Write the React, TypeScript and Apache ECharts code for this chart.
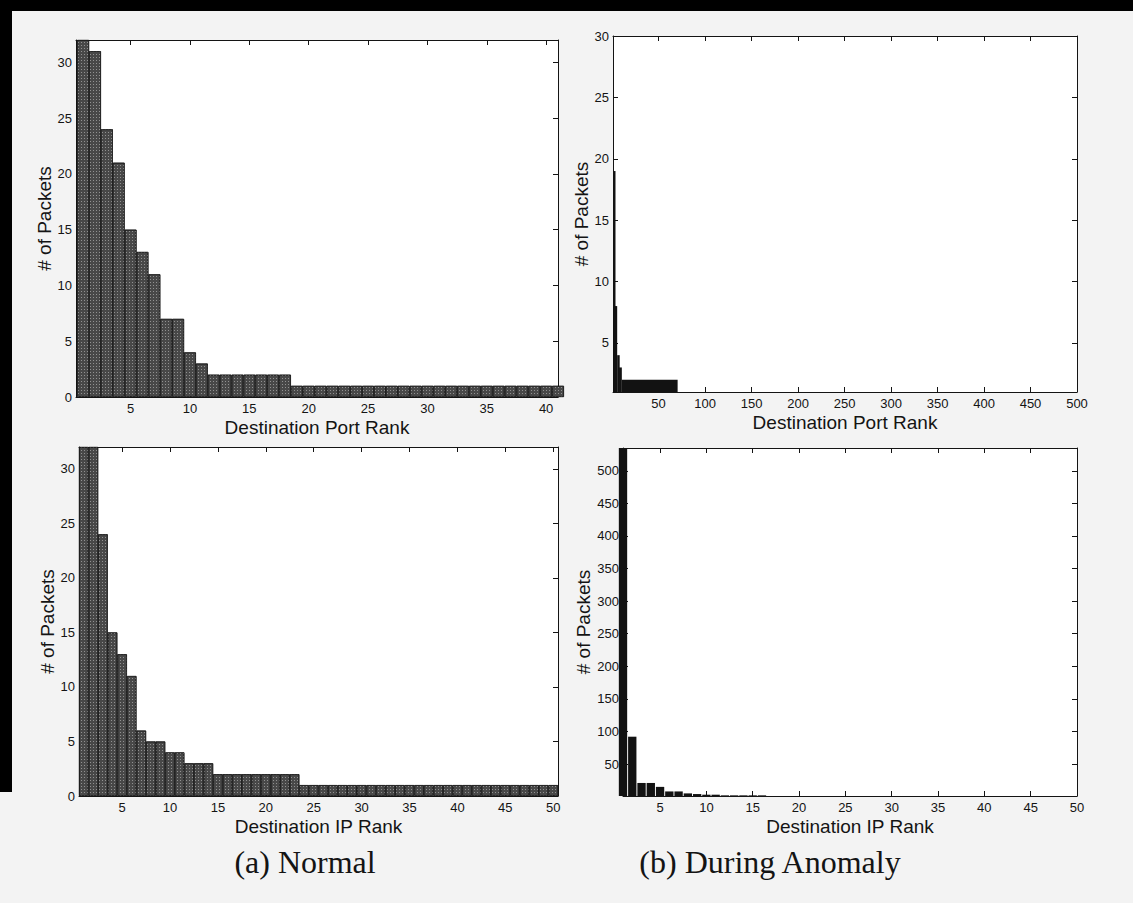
import React, { useEffect, useRef } from 'react';
import * as echarts from 'echarts';

// ---- data ----
const portNormalCounts = [
  32, 31, 24, 21, 15, 13, 11, 7, 7, 4, 3,
  2, 2, 2, 2, 2, 2, 2,
  1, 1, 1, 1, 1, 1, 1, 1, 1, 1, 1, 1, 1, 1, 1, 1, 1, 1, 1, 1, 1, 1, 1,
];
const ipNormalCounts = [
  32, 32, 24, 15, 13, 11, 6, 5, 5, 4, 4, 3, 3, 3,
  2, 2, 2, 2, 2, 2, 2, 2, 2,
  1, 1, 1, 1, 1, 1, 1, 1, 1, 1, 1, 1, 1, 1, 1, 1, 1, 1, 1, 1, 1, 1, 1, 1, 1, 1, 1,
];
const ipAnomalyCounts = [
  535, 92, 21, 21, 15, 8, 8, 5, 4, 3, 3, 2, 2, 2, 2, 2,
  1, 1, 1, 1, 1, 1, 1, 1, 1, 1, 1, 1, 1, 1, 1, 1, 1, 1, 1, 1, 1,
  1, 1, 1, 1, 1, 1, 1, 1, 1, 1, 1, 1, 1,
];
// [first rank, last rank, # of packets]
const portAnomalyRuns = [
  [1, 1, 19],
  [2, 5, 8],
  [6, 7, 4],
  [8, 10, 3],
  [11, 70, 2],
  [71, 500, 1],
];

const ticksPortNormalX = [5, 10, 15, 20, 25, 30, 35, 40];
const ticksIpNormalX = [5, 10, 15, 20, 25, 30, 35, 40, 45, 50];
const ticksPortAnomalyX = [50, 100, 150, 200, 250, 300, 350, 400, 450, 500];
const ticksIpAnomalyX = [5, 10, 15, 20, 25, 30, 35, 40, 45, 50];
const ticksNormalY = [0, 5, 10, 15, 20, 25, 30];
const ticksPortAnomalyY = [5, 10, 15, 20, 25, 30];
const ticksIpAnomalyY = [50, 100, 150, 200, 250, 300, 350, 400, 450, 500];

const SANS = '"Liberation Sans", Arial, Helvetica, sans-serif';
const SERIF = '"Liberation Serif", "Times New Roman", serif';
const INK = '#141414';

const panels = [
  { left: 76, top: 40, width: 482, height: 357, xMin: 0.4, xMax: 41, yMin: 0, yMax: 32,
    xTicks: ticksPortNormalX, yTicks: ticksNormalY, xName: 'Destination Port Rank', yGap: 22 },
  { left: 613, top: 36, width: 464, height: 356, xMin: 1, xMax: 500, yMin: 1, yMax: 30,
    xTicks: ticksPortAnomalyX, yTicks: ticksPortAnomalyY, xName: 'Destination Port Rank', yGap: 21 },
  { left: 79, top: 447, width: 479, height: 349, xMin: 0.5, xMax: 50.5, yMin: 0, yMax: 32,
    xTicks: ticksIpNormalX, yTicks: ticksNormalY, xName: 'Destination IP Rank', yGap: 22 },
  { left: 623, top: 448, width: 454, height: 348, xMin: 1, xMax: 50, yMin: 1, yMax: 535,
    xTicks: ticksIpAnomalyX, yTicks: ticksIpAnomalyY, xName: 'Destination IP Rank', yGap: 27 },
];

const tickStyle = { color: INK, width: 1 };

function buildOption() {
  const grid: any[] = [];
  const xAxis: any[] = [];
  const yAxis: any[] = [];
  panels.forEach((p, g) => {
    grid.push({ left: p.left, top: p.top, width: p.width, height: p.height,
      show: true, backgroundColor: '#ffffff', borderWidth: 0 });
    const xBase = { type: 'value', gridIndex: g, min: p.xMin, max: p.xMax, splitLine: { show: false },
      axisLine: { show: true, onZero: false, lineStyle: tickStyle } };
    const yBase = { type: 'value', gridIndex: g, min: p.yMin, max: p.yMax, splitLine: { show: false },
      axisLine: { show: true, onZero: false, lineStyle: tickStyle } };
    xAxis.push({ ...xBase, position: 'bottom',
      axisTick: { show: true, inside: true, length: 5, customValues: p.xTicks, lineStyle: tickStyle },
      axisLabel: { show: true, customValues: p.xTicks, fontSize: 13, color: INK, fontFamily: SANS, margin: 5 },
      name: p.xName, nameLocation: 'middle', nameGap: 21,
      nameTextStyle: { fontSize: 19, color: INK, fontFamily: SANS } });
    xAxis.push({ ...xBase, position: 'top',
      axisTick: { show: true, inside: true, length: 5, customValues: p.xTicks, lineStyle: tickStyle },
      axisLabel: { show: false } });
    yAxis.push({ ...yBase, position: 'left',
      axisTick: { show: true, inside: true, length: 5, customValues: p.yTicks, lineStyle: tickStyle },
      axisLabel: { show: true, customValues: p.yTicks, fontSize: 13, color: INK, fontFamily: SANS, margin: 4 },
      name: '# of Packets', nameLocation: 'middle', nameGap: p.yGap,
      nameTextStyle: { fontSize: 19, color: INK, fontFamily: SANS } });
    yAxis.push({ ...yBase, position: 'right',
      axisTick: { show: true, inside: true, length: 5, customValues: p.yTicks, lineStyle: tickStyle },
      axisLabel: { show: false } });
  });

  const normalStyle = {
    color: '#484848', borderColor: '#1a1a1a', borderWidth: 0.7,
    decal: { symbol: 'rect', symbolSize: 1, dashArrayX: [1, 2], dashArrayY: [1, 2],
      color: 'rgba(255,255,255,0.4)', rotation: 0 },
  };

  const unitPx = (p: any) => p.width / (p.xMax - p.xMin);

  const series: any[] = [
    { type: 'bar', xAxisIndex: 0, yAxisIndex: 0, barWidth: unitPx(panels[0]), clip: true, silent: true,
      itemStyle: normalStyle, data: portNormalCounts.map((c, i) => [i + 1, c]) },
    { type: 'custom', xAxisIndex: 2, yAxisIndex: 2, clip: true, silent: true,
      encode: { x: [0, 1], y: 2 },
      data: portAnomalyRuns,
      renderItem: (params: any, api: any) => {
        const a = api.value(0), b = api.value(1), v = api.value(2);
        const cs = params.coordSys;
        const p0 = api.coord([a - 0.5, v]);
        const p1 = api.coord([b + 0.5, panels[1].yMin]);
        const x0 = Math.max(p0[0], cs.x);
        const x1 = Math.min(Math.max(p1[0], x0 + 2.5), cs.x + cs.width);
        const y0 = Math.max(p0[1], cs.y);
        const y1 = p1[1];
        if (x1 <= x0 || y1 <= y0) return null;
        return { type: 'rect', shape: { x: x0, y: y0, width: x1 - x0, height: y1 - y0 },
          style: { fill: '#121212' } };
      } },
    { type: 'bar', xAxisIndex: 4, yAxisIndex: 4, barWidth: unitPx(panels[2]), clip: true, silent: true,
      itemStyle: normalStyle, data: ipNormalCounts.map((c, i) => [i + 1, c]) },
    { type: 'bar', xAxisIndex: 6, yAxisIndex: 6, barWidth: unitPx(panels[3]) * 0.9, clip: true, silent: true,
      itemStyle: { color: '#121212' }, data: ipAnomalyCounts.map((c, i) => [i + 1, c]) },
  ];

  const graphic: any[] = [
    { type: 'rect', shape: { x: 0, y: 0, width: 1133, height: 11 }, style: { fill: '#000' }, silent: true },
    { type: 'rect', shape: { x: 0, y: 0, width: 12, height: 792 }, style: { fill: '#000' }, silent: true },
    { type: 'text', x: 305, y: 862, style: { text: '(a) Normal', font: `32px ${SERIF}`, fill: INK,
      align: 'center', verticalAlign: 'middle' }, silent: true },
    { type: 'text', x: 770, y: 862, style: { text: '(b) During Anomaly', font: `32px ${SERIF}`, fill: INK,
      align: 'center', verticalAlign: 'middle' }, silent: true },
  ];

  return { animation: false, backgroundColor: '#f3f3f3', grid, xAxis, yAxis, series, graphic };
}

export default function App() {
  const ref = useRef<HTMLDivElement>(null);
  useEffect(() => {
    if (!ref.current) return;
    const chart = echarts.init(ref.current, null, { renderer: 'svg' });
    chart.setOption(buildOption() as any);
    return () => chart.dispose();
  }, []);
  return (
    <div ref={ref}
      style={{ position: 'fixed', left: 0, top: 0, width: 1133, height: 903 }} />
  );
}
